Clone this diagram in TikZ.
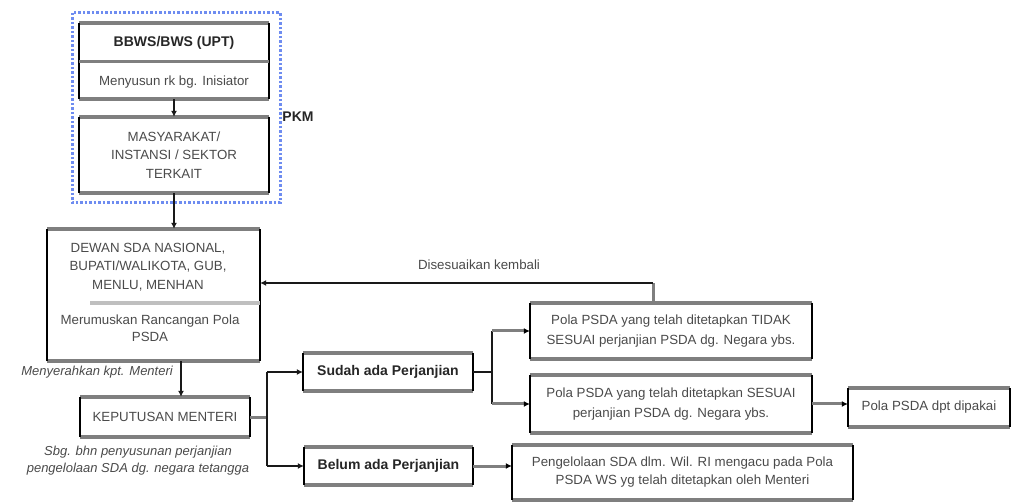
\documentclass[tikz,border=0pt]{standalone}
\usepackage{fontspec}
\setmainfont{Liberation Sans}
\usetikzlibrary{arrows.meta,calc}
\definecolor{edgegray}{HTML}{7F7F7F}
\definecolor{txt}{HTML}{4A4A4A}
\definecolor{dotblue}{RGB}{110,140,240}
\tikzset{
 hz/.style={draw=edgegray, line width=3.5pt},
 vt/.style={draw=black, line width=2pt},
 bx/.style={rectangle, inner sep=0pt, append after command={
   (\tikzlastnode.north west) edge[hz] (\tikzlastnode.north east)
   (\tikzlastnode.south west) edge[hz] (\tikzlastnode.south east)
   (\tikzlastnode.north west) edge[vt] (\tikzlastnode.south west)
   (\tikzlastnode.north east) edge[vt] (\tikzlastnode.south east)}},
 lbl/.style={text=txt, font=\fontsize{13.3}{20}\selectfont, align=center, inner sep=0pt},
 lblb/.style={text=black!85, font=\fontsize{14}{20}\selectfont\bfseries, align=center, inner sep=0pt},
 lbli/.style={text=txt, font=\fontsize{13}{17}\selectfont\itshape, align=center, inner sep=0pt},
 arr/.style={draw=black!90, line width=1.8pt, -{Latex[length=6pt,width=6pt]}},
 ln/.style={draw=black!90, line width=1.8pt},
 gln/.style={draw=edgegray, line width=3pt},
 garr/.style={draw=edgegray, line width=3pt, -{Latex[length=6pt,width=6pt,color=black]}},
}
\begin{document}
\begin{tikzpicture}[x=1pt,y=-1pt]
\path[use as bounding box] (0,0) rectangle (1012,502);

% PKM group
\draw[dotblue, line width=3pt, dash pattern=on 2.5pt off 2pt] (72,13) rectangle (280,203);
\node[lblb] (pkm) at (298,117) {PKM};

\node[bx, minimum width=190pt, minimum height=76pt] (bbws) at (174,61) {};
\draw[edgegray, line width=3pt] (bbws.west |- 0,62) -- (bbws.east |- 0,62);
\node[lblb] (bbwsT) at (174,43) {BBWS/BWS (UPT)};
\node[lbl] (bbwsS) at (174,82) {Menyusun rk bg. Inisiator};

\node[bx, lbl, minimum width=190pt, minimum height=76pt, font=\fontsize{13.3}{18.5}\selectfont] (masy) at (174,155) {MASYARAKAT/\\INSTANSI / SEKTOR\\TERKAIT};

% Dewan
\node[bx, minimum width=213pt, minimum height=132pt] (dewan) at (153.5,295) {};
\node[lbl, font=\fontsize{13.3}{18.5}\selectfont] (dewanA) at (148,267) {DEWAN SDA NASIONAL,\\BUPATI/WALIKOTA, GUB,\\MENLU, MENHAN};
\draw[black!25, line width=4pt] (90,303) -- (dewan.east |- 0,303);
\node[lbl, font=\fontsize{13.3}{17}\selectfont] (dewanB) at (150,328) {Merumuskan Rancangan Pola\\PSDA};

\node[lbli, anchor=east] (menyer) at (173,372) {Menyerahkan kpt. Menteri};

\node[bx, lbl, minimum width=170pt, minimum height=40pt] (kep) at (165,417) {KEPUTUSAN MENTERI};
\node[lbli] (sbg) at (138,460.5) {Sbg. bhn penyusunan perjanjian\\pengelolaan SDA dg. negara tetangga};

\node[bx, lblb, minimum width=170pt, minimum height=38pt] (sudah) at (388,372) {Sudah ada Perjanjian};
\node[bx, lblb, minimum width=169pt, minimum height=38pt] (belum) at (388.5,466) {Belum ada Perjanjian};

\node[bx, lbl, minimum width=282pt, minimum height=56pt] (tidak) at (671,331) {Pola PSDA yang telah ditetapkan TIDAK\\SESUAI perjanjian PSDA dg. Negara ybs.};
\node[bx, lbl, minimum width=282pt, minimum height=58pt] (sesuai) at (671,404) {Pola PSDA yang telah ditetapkan SESUAI\\perjanjian PSDA dg. Negara ybs.};
\node[bx, lbl, minimum width=162pt, minimum height=39pt] (polad) at (929,407.5) {Pola PSDA dpt dipakai};
\node[bx, lbl, minimum width=341pt, minimum height=55pt, font=\fontsize{13.3}{18}\selectfont] (peng) at (682.5,472.5) {Pengelolaan SDA dlm. Wil. RI mengacu pada Pola\\PSDA WS yg telah ditetapkan oleh Menteri};

\node[lbl] (dises) at (479,265) {Disesuaikan kembali};

% connectors
\draw[arr] (bbws) -- (masy);
\draw[arr] (masy.south) -- (masy.south |- dewan.north);
\coordinate (k1) at (181,0);
\draw[arr] (dewan.south -| k1) -- (kep.north -| k1);

\coordinate (b1) at (267,417);
\draw[gln] (kep.east) -- (b1);
\draw[ln] (sudah.west -| b1) -- (belum.west -| b1);
\draw[arr] (sudah.west -| b1) -- (sudah.west);
\draw[arr] (belum.west -| b1) -- (belum.west);

\coordinate (b2) at (492,372);
\draw[ln] (sudah.east) -- (b2);
\draw[ln] (tidak.west -| b2) -- (sesuai.west -| b2);
\draw[garr] (tidak.west -| b2) -- (tidak.west);
\draw[garr] (sesuai.west -| b2) -- (sesuai.west);

\coordinate (r1) at (653,283);
\draw[gln] (tidak.north -| r1) -- (r1);
\draw[arr] (r1) -- (r1 -| dewan.east);

\draw[garr] (sesuai.east) -- (sesuai.east -| polad.west);
\draw[garr] (belum.east) -- (belum.east -| peng.west);
\end{tikzpicture}
\end{document}
